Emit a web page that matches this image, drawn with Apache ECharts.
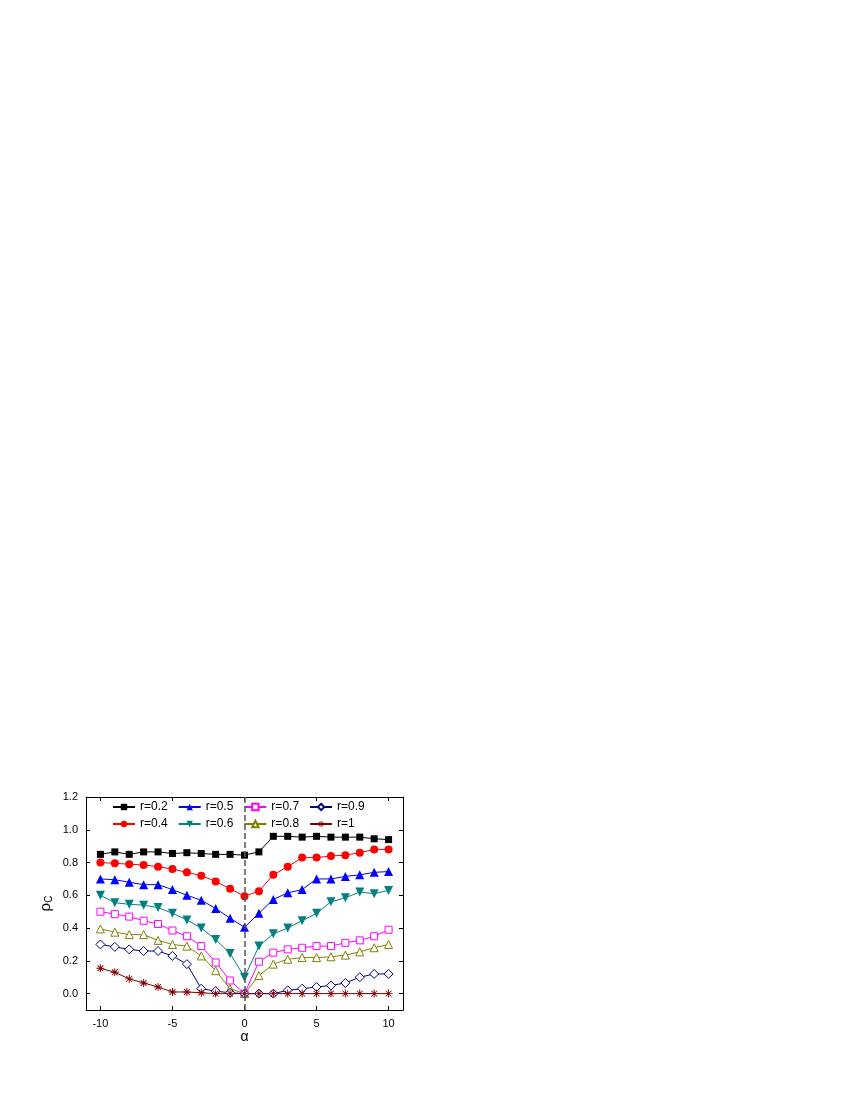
<!DOCTYPE html>
<html>
<head>
<meta charset="UTF-8">
<script src="https://cdn.jsdelivr.net/npm/echarts@6/dist/echarts.min.js"></script>
</head>
<body style="margin:0;background:#fff">
<div id="main" style="width:850px;height:1100px;"></div>
<script>
var alpha = [-10,-9,-8,-7,-6,-5,-4,-3,-2,-1,0,1,2,3,4,5,6,7,8,9,10];
var r02 = [0.85,0.865,0.85,0.865,0.865,0.855,0.86,0.855,0.85,0.85,0.845,0.865,0.96,0.96,0.955,0.96,0.955,0.955,0.955,0.945,0.94];
var r04 = [0.80,0.795,0.79,0.785,0.775,0.76,0.74,0.72,0.685,0.64,0.595,0.625,0.725,0.775,0.83,0.83,0.84,0.845,0.86,0.88,0.88];
var r05 = [0.70,0.695,0.68,0.665,0.665,0.635,0.60,0.57,0.52,0.46,0.405,0.49,0.575,0.615,0.635,0.70,0.70,0.715,0.725,0.74,0.745];
var r06 = [0.60,0.555,0.545,0.54,0.525,0.49,0.45,0.40,0.33,0.245,0.10,0.29,0.365,0.40,0.445,0.49,0.56,0.585,0.62,0.61,0.63];
var r07 = [0.50,0.485,0.47,0.445,0.425,0.385,0.35,0.29,0.19,0.08,0.0,0.195,0.25,0.27,0.28,0.29,0.29,0.31,0.325,0.35,0.39];
var r08 = [0.395,0.375,0.36,0.36,0.325,0.30,0.29,0.23,0.14,0.03,0.0,0.11,0.18,0.21,0.22,0.22,0.225,0.235,0.255,0.28,0.30];
var r09 = [0.30,0.285,0.27,0.26,0.26,0.23,0.18,0.03,0.015,0.005,0.0,0.0,0.0,0.02,0.03,0.04,0.05,0.065,0.10,0.12,0.12];
var r10 = [0.155,0.13,0.09,0.065,0.04,0.01,0.01,0.005,0,0,0,0,0,0,0,0,0,0,0,0,0];
var xTicks = [-10,-5,0,5,10];
var yTicks = [0,0.2,0.4,0.6,0.8,1.0,1.2];

var myChart = echarts.init(document.getElementById('main'));

function pair(arr){ return arr.map(function(v,i){ return [alpha[i], v]; }); }
function mk(name, data, color, symbol, size, hollow){
	return {
		name:name, type:'line', data:pair(data), symbol:symbol, symbolSize:size,
		lineStyle:{color:color,width:1},
		itemStyle:{color: hollow ? '#fff' : color, borderColor:color, borderWidth: hollow ? 1 : 0},
		z: 3
	};
}
var down = 'path://M0,0L10,0L5,9Z';
var star = 'path://M4.4,0h1.2v10h-1.2z M0,4.4h10v1.2h-10z M1,1.8l0.8,-0.8l7.2,7.2l-0.8,0.8z M8.2,1l0.8,0.8l-7.2,7.2l-0.8,-0.8z';

var series = [
	mk('r=0.2', r02, '#000000', 'rect', 7, false),
	mk('r=0.4', r04, '#ff0000', 'circle', 8, false),
	mk('r=0.5', r05, '#0000ff', 'triangle', 9, false),
	mk('r=0.6', r06, '#008080', down, 9, false),
	mk('r=0.7', r07, '#ff00ff', 'rect', 7, true),
	mk('r=0.8', r08, '#808000', 'triangle', 8, true),
	mk('r=0.9', r09, '#000080', 'diamond', 9, true),
	mk('r=1', r10, '#800000', star, 8, false)
];
series[0].markLine = {
	silent:true, symbol:'none', label:{show:false},
	lineStyle:{color:'#555',type:'dashed',width:1.5},
	data:[{xAxis:0}]
};

var axisCommon = {
	axisLine:{show:true,onZero:false,lineStyle:{color:'#000',width:1}},
	axisTick:{show:true,inside:true,length:4,lineStyle:{color:'#000'}},
	splitLine:{show:false}
};

var option = {
	animation:false,
	textStyle:{fontFamily:'Arial, Liberation Sans, sans-serif'},
	grid:{left:86, right:447, top:797, bottom:90},
	legend:[{
		left:112, top:801, itemGap:10, itemWidth:22, itemHeight:8,
		textStyle:{fontSize:12,color:'#000'}, padding:0,
		data:['r=0.2','r=0.5','r=0.7','r=0.9']
	},{
		left:112, top:818, itemGap:10, itemWidth:22, itemHeight:8,
		textStyle:{fontSize:12,color:'#000'}, padding:0,
		data:['r=0.4','r=0.6','r=0.8','r=1']
	}],
	xAxis:[
		Object.assign({type:'value',min:-11,max:11,position:'bottom',
			name:'α', nameLocation:'middle', nameGap:18, nameTextStyle:{fontSize:14,color:'#000'},
			axisLabel:{color:'#000',fontSize:11,customValues:xTicks}}, axisCommon,
			{axisTick:{show:true,inside:true,length:4,lineStyle:{color:'#000'},customValues:xTicks}}),
		Object.assign({type:'value',min:-11,max:11,position:'top',axisLabel:{show:false}}, axisCommon,
			{axisTick:{show:true,inside:true,length:4,lineStyle:{color:'#000'},customValues:xTicks}})
	],
	yAxis:[
		Object.assign({type:'value',min:-0.1,max:1.2,position:'left',
			name:'{a|ρ}{b|C}', nameLocation:'middle', nameGap:32, nameRotate:90,
			nameTextStyle:{rich:{a:{fontSize:15,color:'#000'},b:{fontSize:10,color:'#000',verticalAlign:'bottom',padding:[6,0,0,0]}}},
			axisLabel:{color:'#000',fontSize:11,customValues:yTicks,formatter:function(v){return v.toFixed(1);}}}, axisCommon,
			{axisTick:{show:true,inside:true,length:4,lineStyle:{color:'#000'},customValues:yTicks}}),
		Object.assign({type:'value',min:-0.1,max:1.2,position:'right',axisLabel:{show:false}}, axisCommon,
			{axisTick:{show:true,inside:true,length:4,lineStyle:{color:'#000'},customValues:yTicks}})
	],
	series:series
};
myChart.setOption(option);
</script>
</body>
</html>
